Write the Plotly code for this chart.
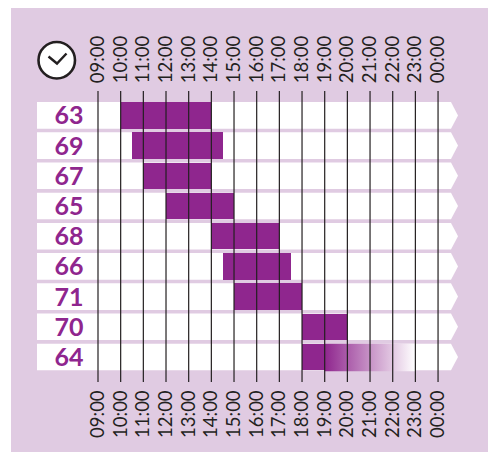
import plotly.graph_objects as go

rows = ["63", "69", "67", "65", "68", "66", "71", "70", "64"]
starts = [10, 10.5, 11, 12, 14, 14.5, 15, 18, 18]
ends = [14, 14.5, 14, 15, 17, 17.5, 18, 20, 19]
fade_start = 19
fade_end = 23
hours = list(range(9, 25))
hour_labels = ["09:00", "10:00", "11:00", "12:00", "13:00", "14:00", "15:00", "16:00",
               "17:00", "18:00", "19:00", "20:00", "21:00", "22:00", "23:00", "00:00"]

W, H = 488, 452
L, R, T, B = 37, 458, 91, 382
PX_PER_H = 22.67
PX_PER_ROW = 30.2
X0 = 9 - (98 - L) / PX_PER_H
X1 = 9 + (R - 98) / PX_PER_H
Y0 = -(115.4 - T) / PX_PER_ROW
Y1 = (B - 115.4) / PX_PER_ROW
SHOULDER = 9 + (451 - 98) / PX_PER_H
BG, PURPLE, INK = "#e0cbe2", "#8f268e", "#231f20"
HALF = 0.44
LABEL_NUDGE = 0.09


def fx(x):
    return (x - L) / (R - L)


def fy(y):
    return (B - y) / (B - T)


fig = go.Figure()

fig.add_trace(go.Bar(y=list(range(len(rows))), x=[e - s for s, e in zip(starts, ends)], base=starts,
                     orientation="h", width=HALF * 2, marker=dict(color=PURPLE, line=dict(width=0)),
                     showlegend=False))

# fading tail of the last row
last = len(rows) - 1
fig.add_trace(go.Scatter(
    x=[fade_start, fade_end, fade_end, fade_start, fade_start],
    y=[last - HALF, last - HALF, last + HALF + 0.03, last + HALF + 0.03, last - HALF],
    mode="lines", line=dict(width=0), fill="toself", hoverinfo="skip", showlegend=False,
    fillgradient=dict(type="horizontal", colorscale=[[0, PURPLE], [1, "#ffffff"]],
                      start=fade_start, stop=fade_end)))

# hour lines over the bars
lx, ly = [], []
for h in hours:
    lx += [h, h, None]
    ly += [Y0, Y1, None]
fig.add_trace(go.Scatter(x=lx, y=ly, mode="lines", line=dict(color=INK, width=1.2),
                         hoverinfo="skip", showlegend=False))

# row labels
fig.add_trace(go.Scatter(x=[X0 + 32 / PX_PER_H] * len(rows), y=[i + LABEL_NUDGE for i in range(len(rows))],
                         mode="text", text=rows, textposition="middle center",
                         textfont=dict(family="Lato", size=25, color=PURPLE, weight=700),
                         hoverinfo="skip", showlegend=False))
fig.add_trace(go.Scatter(x=[9], y=[0], xaxis="x2", mode="markers", marker=dict(opacity=0),
                         hoverinfo="skip", showlegend=False))

tick = dict(tickmode="array", tickvals=hours, ticktext=hour_labels, tickangle=-90,
            range=[X0, X1], showgrid=False, zeroline=False, showline=False, automargin=False,
            ticks="outside", tickcolor="rgba(0,0,0,0)",
            tickfont=dict(family="Lato", size=18.5, color=INK))

row_shapes = []
for i in range(len(rows)):
    row_shapes.append(dict(
        type="path", xref="x", yref="y", layer="below", fillcolor="white", line=dict(width=0),
        path=f"M {X0} {i - HALF} L {SHOULDER} {i - HALF} L {X1} {i} "
             f"L {SHOULDER} {i + HALF} L {X0} {i + HALF} Z"))

fig.update_layout(
    width=W, height=H, autosize=False,
    margin=dict(l=L, r=W - R, t=T, b=H - B, pad=0),
    paper_bgcolor="white", plot_bgcolor="rgba(0,0,0,0)",
    xaxis=dict(tick, ticklen=0),
    xaxis2=dict(tick, ticklen=3, overlaying="x", side="top"),
    yaxis=dict(range=[Y1, Y0], visible=False, automargin=False),
    bargap=0, showlegend=False,
    shapes=[
        dict(type="rect", xref="paper", yref="paper", layer="below",
             x0=fx(11), x1=fx(W), y0=fy(H), y1=fy(8),
             fillcolor=BG, line=dict(width=0)),
    ] + row_shapes + [
        dict(type="circle", xref="paper", yref="paper", layer="above",
             x0=fx(38.5), x1=fx(75), y0=fy(78.5), y1=fy(42),
             fillcolor="white", line=dict(color=INK, width=2.6)),
        dict(type="path", xref="paper", yref="paper", layer="above",
             path=f"M {fx(48.5)} {fy(56.5)} L {fx(57)} {fy(63.5)} L {fx(66.5)} {fy(53.5)}",
             line=dict(color=INK, width=2.4)),
    ],
)

fig.write_html("out.html", post_script="document.body.style.margin='0';",
               config=dict(displayModeBar=False))
